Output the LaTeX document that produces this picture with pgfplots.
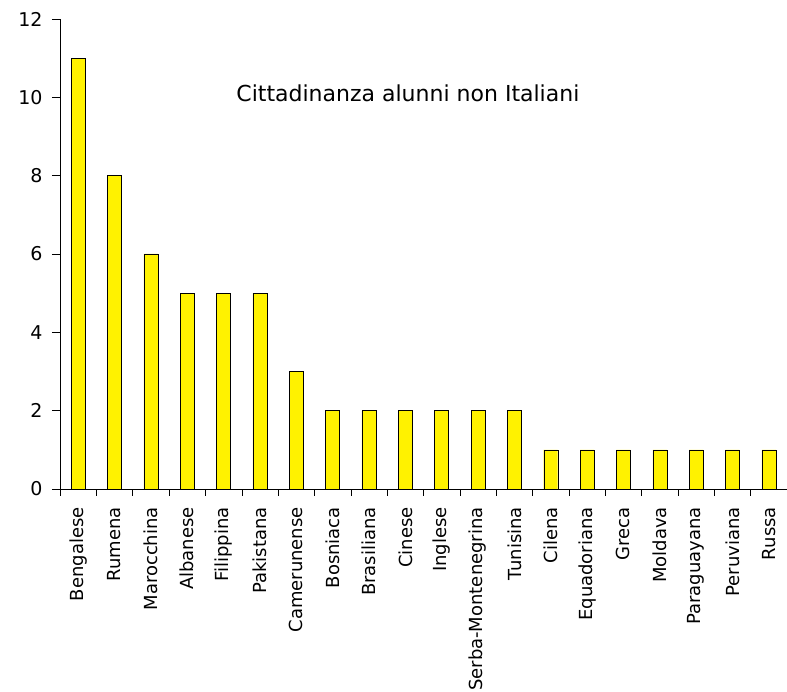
\documentclass[border=0pt]{standalone}
\usepackage{pgfplots}
\pgfplotsset{compat=1.18}
\usepackage{fontspec}
\setmainfont{DejaVu Sans}

\begin{document}
\begin{tikzpicture}
\begin{axis}[
	scale only axis,
	width=727pt, height=470pt,
	axis lines*=left,
	xmin=-0.5, xmax=19.5,
	ymin=0, ymax=12,
	ytick={0,2,...,12},
	xtick={0,...,19},
	xticklabels={Bengalese,Rumena,Marocchina,Albanese,Filippina,Pakistana,Camerunense,Bosniaca,Brasiliana,Cinese,Inglese,Serba-Montenegrina,Tunisina,Cilena,Equadoriana,Greca,Moldava,Paraguayana,Peruviana,Russa},
	minor xtick={-0.5,0.5,...,19.5},
	x tick label style={rotate=90, anchor=east, font=\fontsize{18}{20}\selectfont, inner sep=0pt},
	xticklabel shift=10pt,
	y tick label style={font=\fontsize{19}{21}\selectfont, xshift=-6pt},
	/pgf/number format/assume math mode=true,
	tick align=outside,
	major tick length=8pt,
	minor tick length=7pt,
	x tick style={draw=none},
	minor x tick style={draw=black, thin},
	y tick style={black, thin},
	axis line style={black, thin},
	clip=false,
]
\addplot[ybar, bar width=14pt, fill=yellow, draw=black, thin] coordinates {
	(0,11) (1,8) (2,6) (3,5) (4,5) (5,5) (6,3) (7,2) (8,2) (9,2)
	(10,2) (11,2) (12,2) (13,1) (14,1) (15,1) (16,1) (17,1) (18,1) (19,1)
};
\node[font=\fontsize{22}{24}\selectfont] at (axis cs:9.07,10.1) {Cittadinanza alunni non Italiani};
\coordinate (bl) at (rel axis cs:0,0);
\end{axis}
\pgfresetboundingbox
\path (bl) ++(-60pt,-203pt) rectangle ++(787pt,692pt);
\end{tikzpicture}
\end{document}
